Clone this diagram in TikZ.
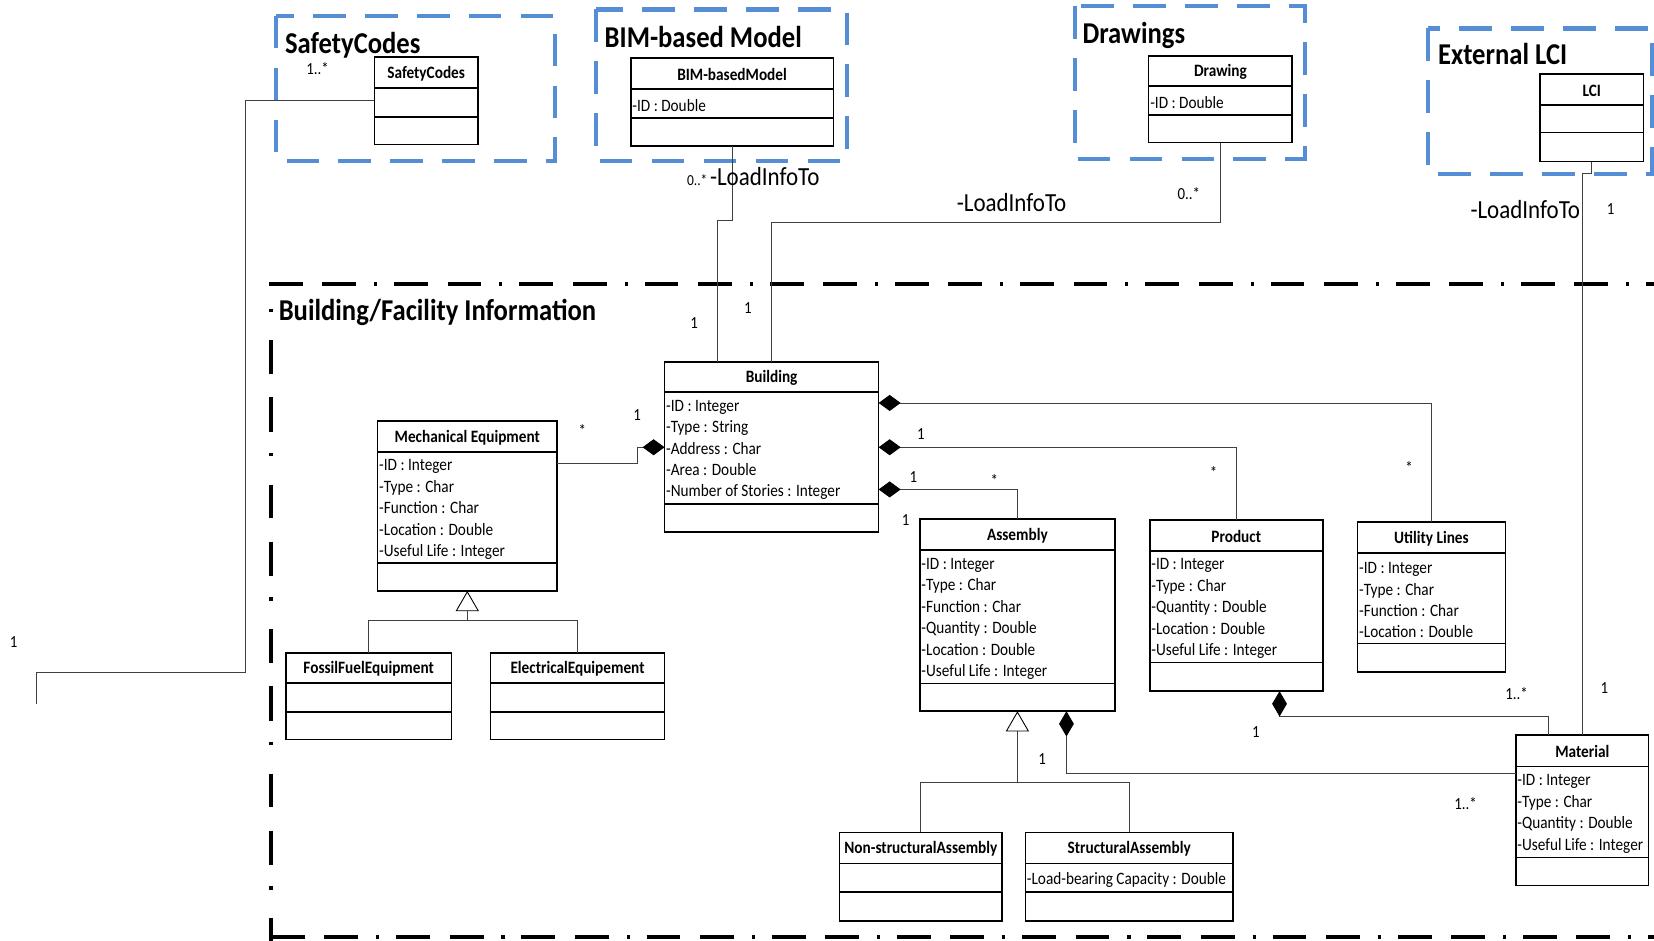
\documentclass[tikz,border=0pt]{standalone}
\usepackage{fontspec}
\setmainfont{Carlito}[FakeStretch=0.88]
\usetikzlibrary{shapes.multipart, arrows.meta}

\setlength{\unitlength}{0.025cm}
\definecolor{pkgblue}{RGB}{85,142,213}
\newcommand{\classfont}{\fontsize{11.7}{14.45}\selectfont}
\newcommand{\hdr}[3]{\parbox[c][#2\unitlength][c]{#1\unitlength}{\vspace*{2\unitlength}\centering\bfseries #3}}
\newcommand{\attrs}[3]{\parbox[c][#2\unitlength][c]{#1\unitlength}{\vspace*{4\unitlength}\raggedright\leftskip=1.5\unitlength #3}}

\tikzstyle{umlclass} = [rectangle split, rectangle split parts=3, draw=black, line width=1pt, inner sep=0pt, outer sep=0pt, anchor=north west, font=\classfont]
\tikzstyle{assoc} = [line width=0.6pt, draw=black!75]
\tikzstyle{compo} = [assoc, {Diamond[color=black, length=0.52cm, width=0.38cm]}-]
\tikzstyle{compov} = [assoc, {Diamond[color=black, length=0.6cm, width=0.35cm]}-]
\tikzstyle{gen} = [assoc, {Triangle[open, color=black, length=0.48cm, width=0.55cm]}-]
\tikzstyle{mult} = [font=\fontsize{11.4}{13}\selectfont, inner sep=0pt, anchor=base]
\tikzstyle{role} = [font=\fontsize{17.6}{20}\selectfont, inner sep=0pt, anchor=base]
\tikzstyle{pkgtitle} = [font=\fontsize{20.4}{24}\selectfont\bfseries, inner sep=0pt, anchor=base west]
\tikzstyle{pkgframe} = [draw=pkgblue, line width=2.8pt, dash pattern=on 22pt off 13pt]
\tikzstyle{infoh} = [line width=2.7pt, dash pattern=on 22.8pt off 13.2pt on 22.8pt off 12.1pt on 2.1pt off 11.4pt]
\tikzstyle{infov} = [line width=2.9pt, dash pattern=on 2.1pt off 19.2pt on 22.8pt off 15.6pt on 23.5pt off 14.2pt]

\begin{document}
\begin{tikzpicture}[x=0.025cm, y=-0.025cm]
\useasboundingbox (0,0) rectangle (1568,892);

% outside packages
\draw[pkgframe] (262,15) rectangle (526,153);
\draw[pkgframe] (565,9) rectangle (803,153);
\draw[pkgframe] (1019,6) rectangle (1237,151);
\draw[pkgframe] (1354,27) rectangle (1566,165);
\node (tsafety) [pkgtitle] at (270,50.5) {SafetyCodes};
\node (tbim) [pkgtitle] at (573,45) {BIM-based Model};
\node (tdrawings) [pkgtitle] at (1026,41.5) {Drawings};
\node (tlci) [pkgtitle] at (1363,61.5) {External LCI};

% building package
\draw[infoh] (255,269.5) -- (1568,269.5);
\draw[infov] (257,292.5) -- (257,892);
\draw[infoh] (257,888) -- (1568,888);
\node (tinfo) [pkgtitle] at (264,304) {Building/Facility Information};

% classes
\node (safety) [umlclass] at (355,54) {\hdr{98}{28}{SafetyCodes}\nodepart{two}\attrs{98}{26}{}\nodepart{three}\attrs{98}{25}{}};
\node (bim) [umlclass] at (598,55) {\hdr{192}{28}{BIM-basedModel}\nodepart{two}\attrs{192}{26}{-ID : Double}\nodepart{three}\attrs{192}{25}{}};
\node (drawing) [umlclass] at (1089,53) {\hdr{136}{27}{Drawing}\nodepart{two}\attrs{136}{26}{-ID : Double}\nodepart{three}\attrs{136}{25}{}};
\node (lci) [umlclass] at (1460,70) {\hdr{98}{28}{LCI}\nodepart{two}\attrs{98}{25}{}\nodepart{three}\attrs{98}{26}{}};

\node (building) [umlclass] at (630,343) {\hdr{203}{27}{Building}\nodepart{two}\attrs{203}{105}{-ID : Integer\\-Type : String\\-Address : Char\\-Area : Double\\-Number of Stories : Integer}\nodepart{three}\attrs{203}{25}{}};
\node (mecheq) [umlclass] at (358,399) {\hdr{170}{28}{Mechanical Equipment}\nodepart{two}\attrs{170}{104}{-ID : Integer\\-Type : Char\\-Function : Char\\-Location : Double\\-Useful Life : Integer}\nodepart{three}\attrs{170}{25}{}};
\node (fossil) [umlclass] at (271,619) {\hdr{157}{27}{FossilFuelEquipment}\nodepart{two}\attrs{157}{26}{}\nodepart{three}\attrs{157}{25}{}};
\node (electrical) [umlclass] at (465,619) {\hdr{165}{27}{ElectricalEquipement}\nodepart{two}\attrs{165}{26}{}\nodepart{three}\attrs{165}{25}{}};
\node (assembly) [umlclass] at (872,492) {\hdr{185}{28}{Assembly}\nodepart{two}\attrs{185}{125}{-ID : Integer\\-Type : Char\\-Function : Char\\-Quantity : Double\\-Location : Double\\-Useful Life : Integer}\nodepart{three}\attrs{185}{25}{}};
\node (product) [umlclass] at (1090,493) {\hdr{164}{28}{Product}\nodepart{two}\attrs{164}{104}{-ID : Integer\\-Type : Char\\-Quantity : Double\\-Location : Double\\-Useful Life : Integer}\nodepart{three}\attrs{164}{26}{}};
\node (utility) [umlclass] at (1287,495) {\hdr{140}{28}{Utility Lines}\nodepart{two}\attrs{140}{84}{-ID : Integer\\-Type : Char\\-Function : Char\\-Location : Double}\nodepart{three}\attrs{140}{26}{}};
\node (material) [umlclass] at (1437,697) {\hdr{126}{28}{Material}\nodepart{two}\attrs{126}{85}{-ID : Integer\\-Type : Char\\-Quantity : Double\\-Useful Life : Integer}\nodepart{three}\attrs{126}{25}{}};
\node (nonstruct) [umlclass] at (796,789) {\hdr{154}{28}{Non-structuralAssembly}\nodepart{two}\attrs{154}{26}{}\nodepart{three}\attrs{154}{26}{}};
\node (struct) [umlclass] at (972,789) {\hdr{197}{28}{StructuralAssembly}\nodepart{two}\attrs{197}{26}{-Load-bearing Capacity : Double}\nodepart{three}\attrs{197}{26}{}};

% associations to outside
\coordinate (scend) at (35,667);
\draw[assoc] ([shift={(0,41.5)}]safety.north west) -| ++(-122,542) -| (scend);
\draw[assoc] (bim.south) -- ++(0,71) -| ([shift={(-51,0)}]building.north);
\draw[assoc] (drawing.south) -- ++(0,76) -| (building.north);
\draw[assoc] (lci.south) -- ++(0,11) -| (material.north);

% compositions
\draw[compo] ([shift={(0,81)}]building.north west) -- ++(-26,0) |- ([shift={(0,40)}]mecheq.north east);
\draw[compo] ([shift={(0,39)}]building.north east) -| (utility.north);
\draw[compo] ([shift={(0,81)}]building.north east) -| (product.north);
\draw[compo] ([shift={(0,121)}]building.north east) -| (assembly.north);
\draw[compov] ([shift={(41,0)}]product.south) -- ++(0,24) -| ([shift={(-32,0)}]material.north);
\draw[compov] ([shift={(46.5,0)}]assembly.south) |- ([shift={(0,36)}]material.north west);

% generalizations
\draw[gen] (mecheq.south) -- ++(0,28) coordinate (mecj);
\draw[assoc] (fossil.north) |- (mecj) -| (electrical.north);
\draw[gen] (assembly.south) -- ++(0,68) coordinate (asmj);
\draw[assoc] (nonstruct.north) |- (asmj) -| (struct.north);

% multiplicities and roles
\node (msafety) [mult] at (301,70.5) {1..*};
\node (mleft) [mult] at (13,613.5) {1};
\node (mbim) [mult, font=\fontsize{10.3}{12}\selectfont] at (661,176) {0..*};
\node (rbim) [role] at (725,176) {-LoadInfoTo};
\node (rdrawing) [role] at (959,200.4) {-LoadInfoTo};
\node (mdrawing) [mult] at (1127,189.5) {0..*};
\node (rlci) [role] at (1446,206.7) {-LoadInfoTo};
\node (mlci) [mult] at (1527,203) {1};
\node (mbbim) [mult] at (658,311.5) {1};
\node (mbdrw) [mult] at (709,297) {1};
\node (mmech) [mult] at (552,414) {*};
\node (mbmech) [mult] at (604,399) {1};
\node (mbprod) [mult] at (873,417) {1};
\node (mbasm) [mult] at (866,457) {1};
\node (masm) [mult] at (942.7,461.4) {*};
\node (masm2) [mult] at (858.6,498.5) {1};
\node (mprod) [mult] at (1150.5,454) {*};
\node (mutil) [mult] at (1335.7,448.5) {*};
\node (mmatp) [mult] at (1437.8,663) {1..*};
\node (mmatl) [mult] at (1521,657) {1};
\node (mprodm) [mult] at (1190.5,699) {1};
\node (mgen) [mult] at (988,725) {1};
\node (mmata) [mult] at (1389.3,767) {1..*};
\end{tikzpicture}
\end{document}
